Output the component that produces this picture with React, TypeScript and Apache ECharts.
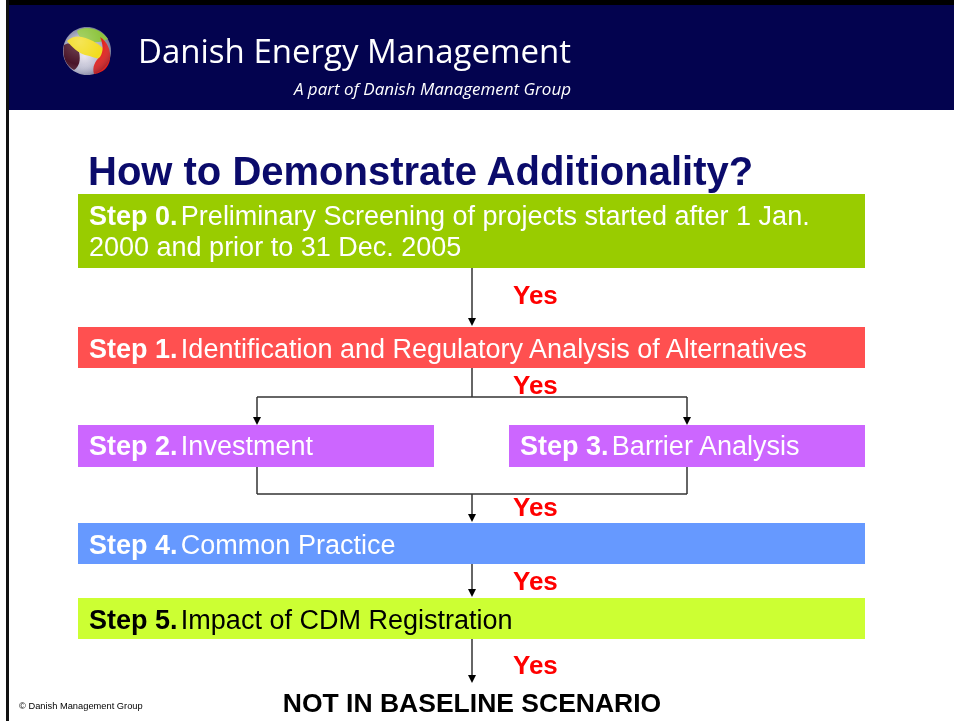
import React, { useEffect, useRef } from "react";
import * as echarts from "echarts";

const headerTitle = "Danish Energy Management";
const headerSub = "A part of Danish Management Group";
const slideTitle = "How to Demonstrate Additionality?";
const stepNames = ["Step 0.", "Step 1.", "Step 2.", "Step 3.", "Step 4.", "Step 5."];
const stepTexts = [
  "Preliminary Screening of projects started after 1 Jan.",
  "Identification and Regulatory Analysis of Alternatives",
  "Investment",
  "Barrier Analysis",
  "Common Practice",
  "Impact of CDM Registration",
];
const step0Line2 = "2000 and prior to 31 Dec. 2005";
const yesLabel = "Yes";
const conclusion = "NOT IN BASELINE SCENARIO";
const copyright = "© Danish Management Group";

const LOGO = {
  green: "M -10 -20 C -2 -26 13 -23 21 -12 C 14 -8 6 -8 -1 -10 C -6 -12 -9 -16 -10 -20 Z",
  yellow: "M -20 -10 C -12 -18 -2 -14 6 -10 C 14 -5 22 0 18 8 C 11 9 5 5 -2 4 C -9 2 -15 -4 -20 -10 Z",
  red: "M 13 -14 C 21 -9 24 0 23 8 C 22 16 16 22 7 23 C 5 16 8 10 13 6 C 17 0 16 -7 13 -14 Z",
  maroon: "M -23 -6 C -18 -10 -11 -6 -8 1 C -6 9 -8 16 -13 19 C -21 15 -25 6 -23 -6 Z",
};

export default function App() {
  const ref = useRef<HTMLDivElement>(null);
  useEffect(() => {
    if (!ref.current) return;
    Object.entries(LOGO).forEach(([k, d]) => {
      echarts.graphic.registerShape("logo_" + k, echarts.graphic.extendPath(d, {}));
    });
    const chart = echarts.init(ref.current, null, { renderer: "svg" });

    const FONT = "'Liberation Sans', Arial, sans-serif";
    const FS = 27;
    const boxW = 787;
    const boxes = [
      { x: 78, y: 194, w: boxW, h: 74, fill: "#99cc00", color: "#ffffff", ty: 216 },
      { x: 78, y: 327, w: boxW, h: 41, fill: "#ff5050", color: "#ffffff", ty: 349 },
      { x: 78, y: 425, w: 356, h: 42, fill: "#cc66ff", color: "#ffffff", ty: 446 },
      { x: 509, y: 425, w: 356, h: 42, fill: "#cc66ff", color: "#ffffff", ty: 446 },
      { x: 78, y: 523, w: boxW, h: 41, fill: "#6699ff", color: "#ffffff", ty: 545 },
      { x: 78, y: 598, w: boxW, h: 41, fill: "#ccff33", color: "#000000", ty: 620 },
    ];
    const els: any[] = [];
    els.push({ type: "rect", shape: { x: 0, y: 0, width: 954, height: 721 }, style: { fill: "#ffffff" } });
    // header
    els.push({ type: "rect", shape: { x: 6, y: 0, width: 948, height: 5 }, style: { fill: "#000000" } });
    els.push({ type: "rect", shape: { x: 7, y: 5, width: 947, height: 105 }, style: { fill: "#03034f" } });
    els.push({ type: "rect", shape: { x: 6, y: 0, width: 3, height: 721 }, style: { fill: "#111111" } });
    // logo
    els.push({
      type: "ellipse",
      shape: { cx: 87, cy: 51, rx: 24, ry: 24 },
      style: {
        fill: {
          type: "radial", x: 0.45, y: 0.6, r: 0.6,
          colorStops: [{ offset: 0, color: "#e8e4ee" }, { offset: 0.7, color: "#a9acc4" }, { offset: 1, color: "#6d7294" }],
        },
      },
    });
    els.push({ type: "logo_maroon", x: 87, y: 51, style: { fill: "#4a1428" } });
    els.push({ type: "logo_green", x: 87, y: 51, style: { fill: "#8cc43c" } });
    els.push({ type: "logo_yellow", x: 87, y: 51, style: { fill: "#f2dc1e" } });
    els.push({ type: "logo_red", x: 87, y: 51, style: { fill: "#e2221e" } });
    els.push({
      type: "ellipse",
      shape: { cx: 87, cy: 51, rx: 24, ry: 24 },
      style: {
        fill: {
          type: "radial", x: 0.35, y: 0.3, r: 0.8,
          colorStops: [{ offset: 0, color: "rgba(255,255,255,0.25)" }, { offset: 0.6, color: "rgba(255,255,255,0)" }, { offset: 1, color: "rgba(0,0,40,0.35)" }],
        },
      },
    });
    els.push({
      type: "text", x: 138, y: 50,
      style: { text: headerTitle, fill: "#ffffff", font: "33px 'Open Sans', 'DejaVu Sans', sans-serif", verticalAlign: "middle" },
    });
    els.push({
      type: "text", x: 571, y: 88,
      style: { text: headerSub, fill: "#ffffff", font: "italic 17px 'Open Sans', 'DejaVu Sans', sans-serif", align: "right", verticalAlign: "middle" },
    });
    // title
    els.push({
      type: "text", x: 88, y: 171,
      style: { text: slideTitle, fill: "#0b0b6b", font: "bold 40px " + FONT, verticalAlign: "middle" },
    });
    // boxes
    boxes.forEach((b, i) => {
      els.push({ type: "rect", shape: { x: b.x, y: b.y, width: b.w, height: b.h }, style: { fill: b.fill } });
      els.push({
        type: "text", x: b.x + 11, y: b.ty,
        style: {
          text: "{b|" + stepNames[i] + "} {r|" + stepTexts[i] + "}",
          verticalAlign: "middle",
          rich: {
            b: { fontWeight: "bold", fontSize: FS, fontFamily: FONT, fill: b.color },
            r: { fontSize: FS, fontFamily: FONT, fill: b.color },
          },
        },
      });
    });
    els.push({
      type: "text", x: 89, y: 247,
      style: { text: step0Line2, fill: "#ffffff", font: FS + "px " + FONT, verticalAlign: "middle" },
    });
    // connectors
    const ln = "#333333";
    const line = (x1: number, y1: number, x2: number, y2: number) =>
      els.push({ type: "line", shape: { x1, y1, x2, y2 }, style: { stroke: ln, lineWidth: 1.5 } });
    const arrow = (x: number, y1: number, y2: number) => {
      line(x, y1, x, y2 - 6);
      els.push({ type: "polygon", shape: { points: [[x - 4, y2 - 8], [x + 4, y2 - 8], [x, y2]] }, style: { fill: "#000000" } });
    };
    arrow(472, 268, 326);
    line(472, 368, 472, 397);
    line(257, 397, 687, 397);
    arrow(257, 397, 425);
    arrow(687, 397, 425);
    line(257, 467, 257, 494);
    line(687, 467, 687, 494);
    line(257, 494, 687, 494);
    arrow(472, 494, 522);
    arrow(472, 564, 597);
    arrow(472, 639, 683);
    [295, 385, 507, 581, 665].forEach((y) => {
      els.push({
        type: "text", x: 513, y,
        style: { text: yesLabel, fill: "#ff0000", font: "bold 26px " + FONT, verticalAlign: "middle" },
      });
    });
    els.push({
      type: "text", x: 472, y: 703,
      style: { text: conclusion, fill: "#000000", font: "bold 26.5px " + FONT, align: "center", verticalAlign: "middle" },
    });
    els.push({
      type: "text", x: 19, y: 706,
      style: { text: copyright, fill: "#000000", font: "9.3px " + FONT, verticalAlign: "middle" },
    });

    chart.setOption({ animation: false, graphic: { elements: els } });
    return () => chart.dispose();
  }, []);
  return <div ref={ref} style={{ position: "fixed", left: 0, top: 0, width: 954, height: 721 }} />;
}
